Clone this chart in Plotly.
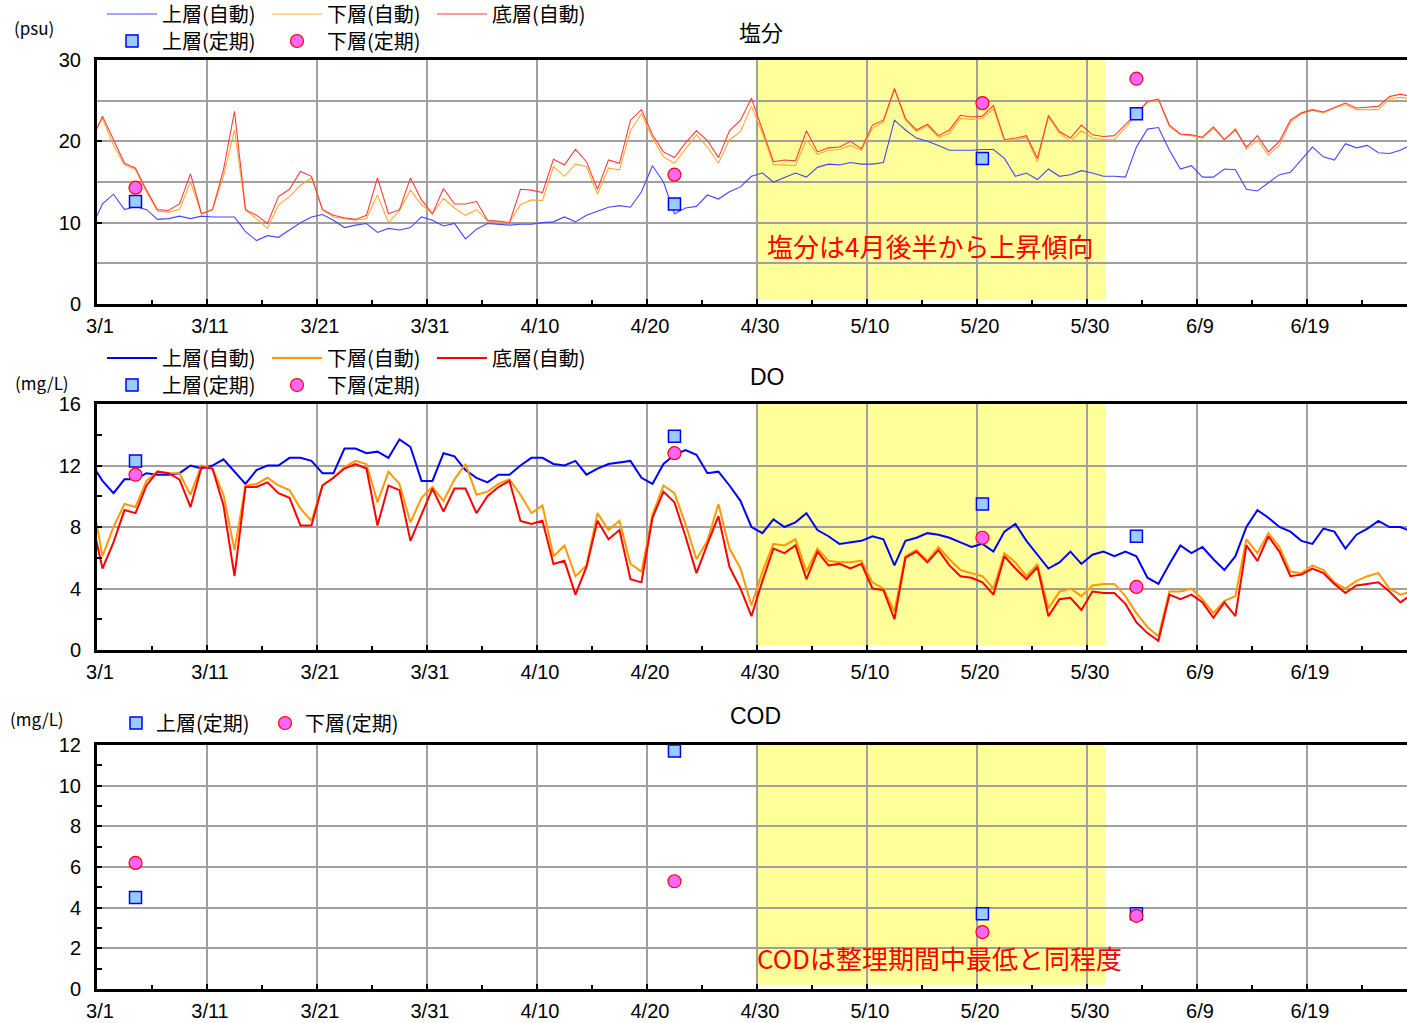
import pandas as pd
import plotly.graph_objects as go

# ---- daily means (2/28 .. 6/28), plotted at noon of each day ----
days = pd.date_range("2023-02-28 12:00", periods=121, freq="D")

sal_upper = [9.4,
    12.3, 13.5, 11.6, 12.0, 11.6, 10.4, 10.5, 10.8, 10.5, 10.8, 10.7, 10.7, 10.7, 8.9, 7.8, 8.4, 8.2, 9.1, 10.0, 10.7,
    11.0, 10.3, 9.4, 9.7, 9.9, 8.8, 9.3, 9.1, 9.4, 10.7, 10.3, 9.6, 9.9, 8.0, 9.2, 9.9, 9.8, 9.7, 9.8, 9.8, 10.0,
    10.1, 10.7, 10.1, 10.9, 11.4, 11.9, 12.1, 11.9, 13.8, 17.0, 15.0, 11.1, 11.8, 12.0, 13.4, 12.9, 13.8, 14.4, 15.7, 16.1,
    15.0, 15.6, 16.1, 15.6, 16.8, 17.2, 17.1, 17.4, 17.2, 17.2, 17.4, 22.6, 21.4, 20.4, 20.0, 19.5, 18.9, 18.9, 18.9, 19.0, 19.0,
    17.9, 15.7, 16.1, 15.3, 16.6, 15.7, 15.9, 16.4, 16.1, 15.7, 15.7, 15.6, 19.3, 21.5, 21.7, 18.9, 16.6, 17.0, 15.6, 15.6,
    16.6, 16.5, 14.1, 13.9, 14.9, 15.9, 16.2, 17.7, 19.3, 18.1, 17.7, 19.7, 19.2, 19.5, 18.6, 18.5, 18.9, 19.6]

sal_lower = [21.0,
    22.8, 19.5, 17.1, 16.5, 13.8, 11.4, 11.3, 11.6, 15.0, 11.1, 11.6, 15.7, 21.4, 11.6, 10.5, 9.3, 12.2, 13.2, 14.6, 15.5,
    11.6, 10.7, 10.5, 10.3, 10.5, 13.4, 10.0, 11.5, 14.0, 12.2, 11.1, 13.0, 11.8, 10.9, 11.6, 10.2, 10.1, 10.0, 12.2, 12.8, 12.7,
    16.9, 15.7, 17.2, 16.9, 13.5, 16.7, 16.5, 21.3, 23.4, 20.4, 18.1, 17.3, 19.1, 20.8, 19.3, 17.3, 20.2, 21.2, 24.3, 21.0,
    17.1, 17.1, 17.0, 20.2, 18.4, 18.9, 19.0, 19.5, 18.9, 21.6, 22.4, 26.4, 22.6, 21.2, 21.9, 20.5, 21.0, 22.8, 22.7, 22.8, 24.0,
    20.1, 20.2, 20.5, 17.5, 23.0, 21.0, 20.0, 21.3, 20.4, 20.2, 20.2, 21.7, 23.2, 24.8, 25.1, 21.8, 20.8, 20.7, 20.4, 21.6,
    20.2, 21.6, 19.0, 20.2, 18.3, 19.5, 22.3, 23.4, 23.8, 23.5, 24.1, 24.5, 23.9, 23.9, 23.9, 25.2, 25.4, 25.2]

sal_bottom = [20.0,
    23.1, 20.2, 17.3, 16.7, 14.0, 11.6, 11.5, 12.3, 16.0, 11.1, 11.6, 16.5, 23.7, 11.6, 10.9, 9.9, 13.2, 14.1, 16.3, 15.7,
    11.6, 10.9, 10.6, 10.4, 10.9, 15.5, 11.1, 11.6, 15.5, 12.8, 11.1, 14.2, 12.3, 12.3, 12.6, 10.3, 10.2, 10.0, 14.1, 14.0, 13.7,
    17.8, 17.1, 19.0, 17.5, 14.1, 17.7, 17.3, 22.6, 23.9, 20.8, 18.7, 18.0, 19.8, 21.3, 20.1, 18.0, 21.3, 22.6, 25.3, 21.4,
    17.5, 17.7, 17.6, 21.3, 18.7, 19.2, 19.3, 20.0, 19.1, 22.0, 22.6, 26.5, 22.8, 21.4, 22.1, 20.7, 21.4, 23.2, 23.0, 23.1, 24.4,
    20.2, 20.4, 20.7, 17.9, 23.2, 21.2, 20.4, 22.0, 20.8, 20.6, 20.7, 22.0, 23.4, 24.9, 25.2, 22.0, 20.9, 20.8, 20.5, 21.8,
    20.2, 21.4, 19.3, 20.7, 18.7, 20.0, 22.6, 23.5, 23.9, 23.6, 24.2, 24.7, 24.1, 24.2, 24.3, 25.5, 25.8, 25.5]

do_upper = [12.1,
    11.0, 10.2, 11.1, 11.1, 11.5, 11.4, 11.4, 11.5, 12.0, 11.8, 12.0, 12.4, 11.6, 10.8, 11.7, 12.0, 12.0, 12.5, 12.5, 12.3,
    11.5, 11.5, 13.1, 13.1, 12.8, 12.9, 12.5, 13.7, 13.2, 11.0, 11.0, 12.8, 12.6, 11.7, 11.2, 10.9, 11.4, 11.4, 12.0, 12.5, 12.5,
    12.1, 12.0, 12.3, 11.4, 11.8, 12.1, 12.2, 12.3, 11.2, 10.8, 12.1, 12.7, 13.0, 12.7, 11.5, 11.6, 10.7, 9.7, 8.0, 7.6,
    8.5, 8.0, 8.3, 8.9, 7.8, 7.4, 6.9, 7.0, 7.1, 7.4, 7.2, 5.5, 7.1, 7.3, 7.6, 7.5, 7.3, 7.0, 6.7, 6.9, 6.4,
    7.7, 8.2, 7.1, 6.2, 5.3, 5.7, 6.4, 5.6, 6.2, 6.4, 6.1, 6.4, 6.1, 4.7, 4.3, 5.6, 6.8, 6.3, 6.7, 5.9,
    5.2, 6.1, 8.0, 9.1, 8.6, 8.0, 7.7, 7.1, 6.9, 7.9, 7.7, 6.6, 7.5, 7.9, 8.4, 8.0, 8.0, 7.7]

do_lower = [10.0,
    6.1, 8.0, 9.5, 9.3, 11.0, 11.6, 11.5, 11.5, 10.1, 12.0, 11.8, 10.1, 6.5, 10.7, 10.8, 11.2, 10.7, 10.4, 9.2, 8.4,
    10.7, 11.2, 11.9, 12.3, 12.1, 9.6, 11.6, 10.8, 8.3, 9.9, 10.6, 9.7, 11.1, 12.1, 10.1, 10.3, 10.8, 11.1, 10.1, 8.9, 9.4,
    6.1, 6.8, 4.8, 5.5, 8.9, 7.8, 8.4, 5.6, 5.1, 8.8, 10.7, 10.2, 8.2, 5.9, 7.1, 9.5, 6.6, 5.3, 2.9, 5.1,
    6.9, 6.8, 7.2, 5.1, 6.6, 5.8, 5.7, 5.7, 5.8, 4.4, 4.0, 2.5, 6.1, 6.5, 5.8, 6.7, 5.9, 5.2, 5.0, 4.8, 4.0,
    6.3, 5.7, 4.8, 5.6, 2.7, 3.8, 4.0, 3.5, 4.2, 4.3, 4.3, 3.5, 2.4, 1.5, 0.9, 3.8, 3.8, 4.0, 3.3, 2.4,
    3.2, 3.5, 7.2, 6.3, 7.6, 6.7, 5.1, 5.0, 5.5, 5.2, 4.4, 4.0, 4.5, 4.8, 5.0, 4.0, 3.6, 3.8]

do_bottom = [8.5,
    5.3, 7.0, 9.1, 8.9, 10.7, 11.6, 11.5, 11.1, 9.3, 11.9, 11.8, 9.4, 4.8, 10.6, 10.6, 10.9, 10.2, 9.9, 8.1, 8.1,
    10.7, 11.2, 11.8, 12.1, 11.8, 8.1, 10.7, 10.4, 7.1, 8.8, 10.5, 9.0, 10.5, 10.5, 8.9, 10.0, 10.6, 11.0, 8.4, 8.2, 8.4,
    5.6, 5.8, 3.6, 5.4, 8.4, 7.2, 7.8, 4.6, 4.4, 8.6, 10.3, 9.6, 7.4, 5.0, 6.9, 8.7, 5.4, 4.0, 2.2, 4.5,
    6.6, 6.3, 6.8, 4.6, 6.4, 5.5, 5.6, 5.3, 5.6, 4.0, 3.9, 2.0, 6.0, 6.4, 5.7, 6.5, 5.5, 4.8, 4.7, 4.4, 3.6,
    6.1, 5.3, 4.6, 5.4, 2.2, 3.3, 3.4, 2.6, 3.8, 3.7, 3.7, 3.0, 1.8, 1.1, 0.6, 3.6, 3.3, 3.6, 3.1, 2.1,
    3.1, 2.2, 6.8, 5.8, 7.4, 6.4, 4.8, 4.9, 5.3, 5.0, 4.3, 3.7, 4.2, 4.3, 4.4, 3.8, 3.1, 3.6]

# ---- periodic survey values ----
survey_dates = ["2023-03-04 12:00", "2023-04-22 12:00", "2023-05-20 12:00", "2023-06-03 12:00"]
sal_survey_upper = [12.6, 12.3, 17.9, 23.4]
sal_survey_lower = [14.3, 15.9, 24.7, 27.7]
do_survey_upper = [12.3, 13.9, 9.5, 7.4]
do_survey_lower = [11.4, 12.8, 7.3, 4.1]
cod_survey_upper = [4.5, 11.7, 3.7, 3.7]
cod_survey_lower = [6.2, 5.3, 2.8, 3.6]

# highlighted period
band_start, band_end = "2023-04-30", "2023-05-31 16:00"

W, H = 1407, 1023
JP = "Noto Sans CJK JP"
NUM = "Liberation Sans Narrow, Liberation Sans, Arial"


def px_x(p):
    return p / W


def px_y(p):
    return 1 - p / H


SQ = dict(symbol="square", size=12, color="#99ccff", line=dict(color="#0000ff", width=1.5))
CI = dict(symbol="circle", size=13, color="#ff66ff", line=dict(color="#ff0000", width=1.2))

fig = go.Figure()

# salinity panel
for name, vals, col in [("上層(自動)", sal_upper, "#4646ff"),
                        ("下層(自動)", sal_lower, "#ffaa33"),
                        ("底層(自動)", sal_bottom, "#ff3b3b")]:
    fig.add_trace(go.Scatter(x=days, y=vals, mode="lines", name=name, line=dict(color=col, width=1.1),
                             xaxis="x", yaxis="y", legend="legend"))
fig.add_trace(go.Scatter(x=survey_dates, y=sal_survey_upper, mode="markers", name="上層(定期)", marker=SQ,
                         xaxis="x", yaxis="y", legend="legend2", cliponaxis=False))
fig.add_trace(go.Scatter(x=survey_dates, y=sal_survey_lower, mode="markers", name="下層(定期)", marker=CI,
                         xaxis="x", yaxis="y", legend="legend2", cliponaxis=False))

# DO panel
for name, vals, col in [("上層(自動)", do_upper, "#0000ff"),
                        ("下層(自動)", do_lower, "#ff9900"),
                        ("底層(自動)", do_bottom, "#ff0000")]:
    fig.add_trace(go.Scatter(x=days, y=vals, mode="lines", name=name, line=dict(color=col, width=2),
                             xaxis="x2", yaxis="y2", legend="legend3"))
fig.add_trace(go.Scatter(x=survey_dates, y=do_survey_upper, mode="markers", name="上層(定期)", marker=SQ,
                         xaxis="x2", yaxis="y2", legend="legend4", cliponaxis=False))
fig.add_trace(go.Scatter(x=survey_dates, y=do_survey_lower, mode="markers", name="下層(定期)", marker=CI,
                         xaxis="x2", yaxis="y2", legend="legend4", cliponaxis=False))

# COD panel
fig.add_trace(go.Scatter(x=survey_dates, y=cod_survey_upper, mode="markers", name="上層(定期)", marker=SQ,
                         xaxis="x3", yaxis="y3", legend="legend5", cliponaxis=False))
fig.add_trace(go.Scatter(x=survey_dates, y=cod_survey_lower, mode="markers", name="下層(定期)", marker=CI,
                         xaxis="x3", yaxis="y3", legend="legend5", cliponaxis=False))

# panel placement (pixel rows: top, bottom)
rows = {"": (60, 304), "2": (404, 650), "3": (745, 989)}
x_end = pd.Timestamp("2023-03-01") + pd.Timedelta(days=119.1)

axis_font = dict(family=NUM, size=20, color="#000")
for k, (top, bot) in rows.items():
    fig.layout["xaxis" + k] = dict(
        type="date", domain=[px_x(97), 1.0], anchor="y" + k, automargin=False,
        range=["2023-03-01", x_end], tick0="2023-03-01", dtick=10 * 86400000,
        tickformat="%-m/%-d", tickfont=axis_font, ticks="inside", ticklen=5, tickcolor="#000", tickwidth=2,
        showgrid=True, gridcolor="#a0a0a0", gridwidth=1.5,
        showline=True, linecolor="#000", linewidth=3, mirror=True,
        minor=dict(dtick=5 * 86400000, ticks="inside", ticklen=4, tickcolor="#000", tickwidth=2, showgrid=False),
        ticklabelstandoff=2, ticklabelshift=3, zeroline=False, fixedrange=True,
    )
    fig.layout["yaxis" + k] = dict(
        domain=[px_y(bot), px_y(top)], anchor="x" + k, automargin=False,
        tickfont=axis_font, showline=True, linecolor="#000", linewidth=3,
        showgrid=True, gridcolor="#a0a0a0", gridwidth=1.5, zeroline=False,
        ticks="inside", ticklen=5, tickcolor="#000", tickwidth=2, ticklabelstandoff=9, fixedrange=True,
    )

fig.layout.yaxis.update(range=[0, 30], tickvals=[0, 10, 20, 30],
                        minor=dict(dtick=5, showgrid=True, gridcolor="#a0a0a0", gridwidth=1.5, ticks=""))
fig.layout.yaxis2.update(range=[0, 16], tickvals=[0, 4, 8, 12, 16],
                         minor=dict(dtick=2, ticks="inside", ticklen=5, tickcolor="#000", tickwidth=2, showgrid=False))
fig.layout.yaxis3.update(range=[0, 12], dtick=2,
                         minor=dict(dtick=1, ticks="inside", ticklen=5, tickcolor="#000", tickwidth=2, showgrid=False))

# highlighted period in every panel
for k in ["", "2", "3"]:
    fig.add_shape(type="rect", xref="x" + k, yref=("y" + k) + " domain",
                  x0=band_start, x1=band_end, y0=0.017, y1=1.0,
                  fillcolor="#ffff99", line=dict(width=0), layer="below")

leg_font = dict(family=JP, size=20, color="#000")
common = dict(orientation="h", xanchor="left", yanchor="middle", bgcolor="rgba(0,0,0,0)",
              font=leg_font, itemwidth=50, entrywidthmode="pixels", tracegroupgap=0,
              itemclick=False, itemdoubleclick=False)
fig.update_layout(
    legend=dict(x=px_x(102), y=px_y(14), entrywidth=100, **common),
    legend2=dict(x=px_x(102), y=px_y(41), entrywidth=100, **common),
    legend3=dict(x=px_x(102), y=px_y(358), entrywidth=100, **common),
    legend4=dict(x=px_x(102), y=px_y(385), entrywidth=100, **common),
    legend5=dict(x=px_x(116), y=px_y(723), entrywidth=104, **{**common, "itemwidth": 30}),
)

ann = [
    dict(text="(psu)", x=px_x(34), y=px_y(28), font=dict(family=JP, size=17, color="#000")),
    dict(text="(mg/L)", x=px_x(42), y=px_y(382), font=dict(family=JP, size=17, color="#000")),
    dict(text="(mg/L)", x=px_x(37), y=px_y(718), font=dict(family=JP, size=17, color="#000")),
    dict(text="塩分", x=px_x(761), y=px_y(31), font=dict(family=JP, size=22, color="#000")),
    dict(text="DO", x=px_x(767), y=px_y(377), font=dict(family="Liberation Sans, Arial", size=23, color="#000")),
    dict(text="COD", x=px_x(755), y=px_y(716), font=dict(family="Liberation Sans, Arial", size=23, color="#000")),
]
for a in ann:
    fig.add_annotation(xref="paper", yref="paper", showarrow=False, xanchor="center", yanchor="middle", **a)

for text, x0, yc in [("塩分は4月後半から上昇傾向", 765, 245), ("CODは整理期間中最低と同程度", 755, 957)]:
    fig.add_annotation(xref="paper", yref="paper", x=px_x(x0), y=px_y(yc), text=text, showarrow=False,
                       xanchor="left", yanchor="middle", font=dict(family=JP, size=26, color="#ff0000"))

fig.update_layout(width=W, height=H, margin=dict(l=0, r=0, t=0, b=0, autoexpand=False),
                  paper_bgcolor="#ffffff", plot_bgcolor="#ffffff", showlegend=True)

fig.write_html("out.html")
